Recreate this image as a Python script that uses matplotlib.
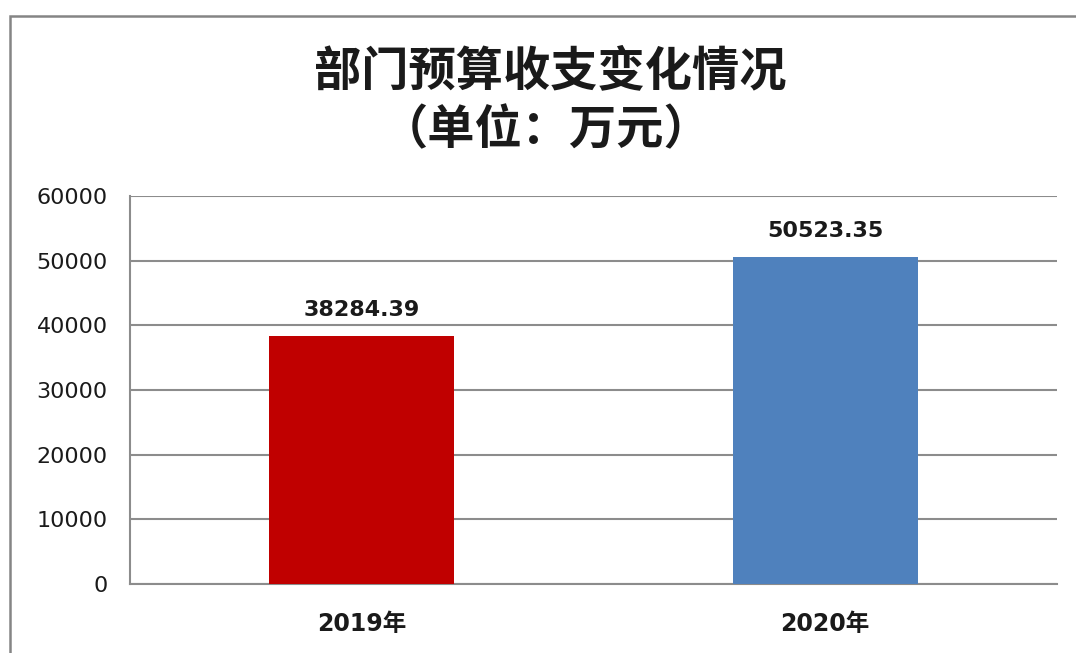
import matplotlib
matplotlib.use("Agg")
import matplotlib.pyplot as plt
from matplotlib.patches import Rectangle

categories = ["2019年", "2020年"]
values = [38284.39, 50523.35]
colors = ["#C00000", "#4F81BD"]
yticks = [0, 10000, 20000, 30000, 40000, 50000, 60000]
title_line1 = "部门预算收支变化情况"
title_line2 = "（单位：万元）"

plt.rcParams['font.family'] = ['DejaVu Sans', 'Noto Sans CJK SC']

W, H = 1076, 653
fig = plt.figure(figsize=(W / 100, H / 100), dpi=100)
fig.patch.set_facecolor("white")

# outer frame (cropped on right/bottom)
fig.patches.append(Rectangle((10 / W, -0.1), 1.2, (H - 16) / H + 0.1,
                             transform=fig.transFigure, fill=False,
                             edgecolor="#858585", linewidth=1.8))

ax = fig.add_axes([130 / W, (H - 584) / H, 927 / W, 388 / H])
x = list(range(len(categories)))
ax.bar(x, values, width=0.4, color=colors, zorder=3)
ax.set_xlim(-0.5, 1.5)
ax.set_ylim(0, 60000)
ax.set_yticks(yticks)
ax.set_yticklabels([str(v) for v in yticks], fontsize=16, color="#1a1a1a")
ax.set_xticks(x)
ax.set_xticklabels(categories, fontsize=17, fontweight='bold', color="#1a1a1a")
ax.tick_params(axis='y', length=0, pad=16)
ax.tick_params(axis='x', length=0, pad=20)
ax.grid(axis='y', color="#8c8c8c", linewidth=1.5, zorder=0)
for s in ["top", "right"]:
    ax.spines[s].set_visible(False)
ax.spines["left"].set_color("#8c8c8c")
ax.spines["bottom"].set_color("#8c8c8c")
ax.spines["left"].set_linewidth(1.5)
ax.spines["bottom"].set_linewidth(1.5)

for xi, v in zip(x, values):
    ax.annotate(f"{v:.2f}", (xi, v), xytext=(0, 12), textcoords="offset points",
                ha="center", va="bottom", fontsize=16, fontweight="bold",
                color="#1a1a1a")

fig.text(550 / W, 1 - 71 / H, title_line1, ha="center", va="center",
         fontsize=34, fontweight="bold", color="#1a1a1a",
         family=['Noto Sans CJK SC'])
fig.text(546 / W, 1 - 130 / H, title_line2, ha="center", va="center",
         fontsize=34, fontweight="bold", color="#1a1a1a",
         family=['Noto Sans CJK SC'])

fig.savefig("out.png", dpi=100)
